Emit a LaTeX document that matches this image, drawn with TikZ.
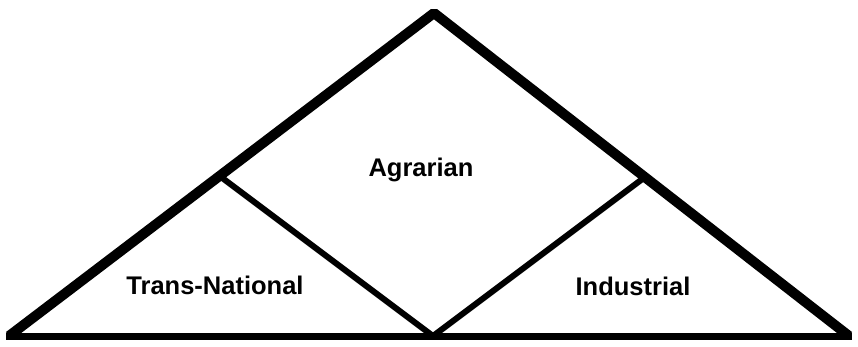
\documentclass[tikz,border=0pt]{standalone}
\usepackage{fontspec}
\setmainfont{Liberation Sans}
\usepackage{xcolor}
\usetikzlibrary{calc}
\definecolor{figline}{RGB}{0,0,0}
\tikzset{
  outer/.style ={draw=figline, line width=10pt, line join=bevel, line cap=butt},
  base/.style  ={draw=figline, line width=7pt, line cap=butt},
  inner/.style ={draw=figline, line width=6pt, line cap=butt},
  lab/.style   ={font=\fontsize{25.5}{30}\selectfont\bfseries, inner sep=0pt},
}
\begin{document}
\begin{tikzpicture}[x=1pt,y=-1pt]
  \useasboundingbox (0,0) rectangle (858,346);
  \coordinate (apex) at (434,13);
  \coordinate (bl) at (9,336);
  \coordinate (br) at (849,336);
  \coordinate (bm) at (433,336);
  \coordinate (jl) at (221,177);
  \coordinate (jr) at (645,177);
  \draw[outer] (bl) -- (apex) -- (br);
  \draw[base] (6,336) -- (852,336);
  \draw[inner] (jl) -- (bm) -- (jr);
  \node[lab] (agr) at (421,170) {Agrarian};
  \node[lab] (trn) at (215,285) {Trans-National};
  \node[lab] (ind) at (633,286) {Industrial};
\end{tikzpicture}
\end{document}
